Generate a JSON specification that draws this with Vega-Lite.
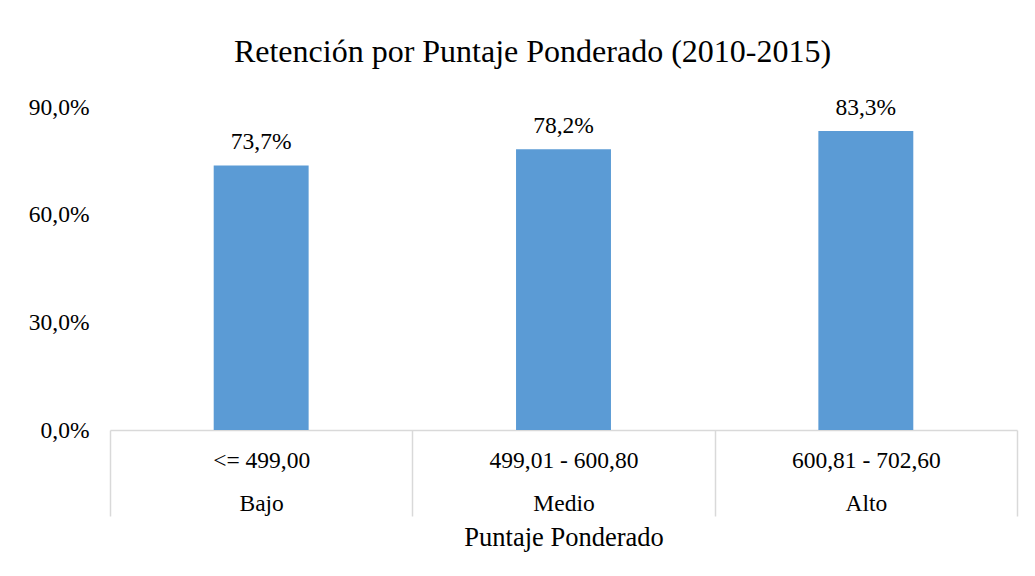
{
  "$schema": "https://vega.github.io/schema/vega-lite/v6.json",
  "autosize": "none",
  "width": 907,
  "height": 323,
  "padding": {"left": 110, "top": 107, "right": 18, "bottom": 146},
  "background": "white",
  "config": {
    "locale": {"number": {"decimal": ",", "thousands": ".", "grouping": [3], "currency": ["", "€"]}},
    "view": {"stroke": null},
    "font": "'Liberation Serif', 'DejaVu Serif', serif"
  },
  "title": {
    "text": "Retención por Puntaje Ponderado (2010-2015)",
    "font": "'Liberation Serif', 'DejaVu Serif', serif",
    "fontSize": 32,
    "fontWeight": "normal",
    "color": "#000000",
    "anchor": "middle",
    "baseline": "alphabetic",
    "offset": 1,
    "dx": -31
  },
  "data": {
    "values": [
      {"grupo": "<= 499,00|Bajo", "retencion": 0.737},
      {"grupo": "499,01 - 600,80|Medio", "retencion": 0.782},
      {"grupo": "600,81 - 702,60|Alto", "retencion": 0.833}
    ]
  },
  "encoding": {
    "x": {
      "field": "grupo",
      "type": "nominal",
      "sort": null,
      "scale": {"paddingInner": 0, "paddingOuter": 0},
      "axis": {
        "title": "Puntaje Ponderado",
        "titleFont": "'Liberation Serif', 'DejaVu Serif', serif",
        "titleFontSize": 26.5,
        "titleFontWeight": "normal",
        "titleColor": "#000000",
        "titlePadding": 8,
        "labelAngle": 0,
        "labelExpr": "split(datum.label, '|')",
        "labelFont": "'Liberation Serif', 'DejaVu Serif', serif",
        "labelFontSize": 23.5,
        "labelColor": "#000000",
        "labelLineHeight": 43,
        "labelBaseline": "top",
        "labelPadding": -68,
        "tickBand": "extent",
        "tickSize": 86,
        "tickColor": "#d9d9d9",
        "tickWidth": 1.5,
        "domainColor": "#d9d9d9",
        "domainWidth": 1.5
      }
    },
    "y": {
      "field": "retencion",
      "type": "quantitative",
      "scale": {"domain": [0, 0.9]},
      "axis": {
        "title": null,
        "values": [0, 0.3, 0.6, 0.9],
        "format": ".1%",
        "grid": false,
        "domain": false,
        "ticks": false,
        "labelFont": "'Liberation Serif', 'DejaVu Serif', serif",
        "labelFontSize": 23.5,
        "labelColor": "#000000",
        "labelPadding": 21
      }
    }
  },
  "layer": [
    {"mark": {"type": "bar", "color": "#5B9BD5", "width": {"band": 0.314}}},
    {
      "mark": {"type": "text", "baseline": "alphabetic", "dy": -16, "font": "'Liberation Serif', 'DejaVu Serif', serif", "fontSize": 23.5, "color": "#000000"},
      "encoding": {"text": {"field": "retencion", "type": "quantitative", "format": ".1%"}}
    }
  ]
}
